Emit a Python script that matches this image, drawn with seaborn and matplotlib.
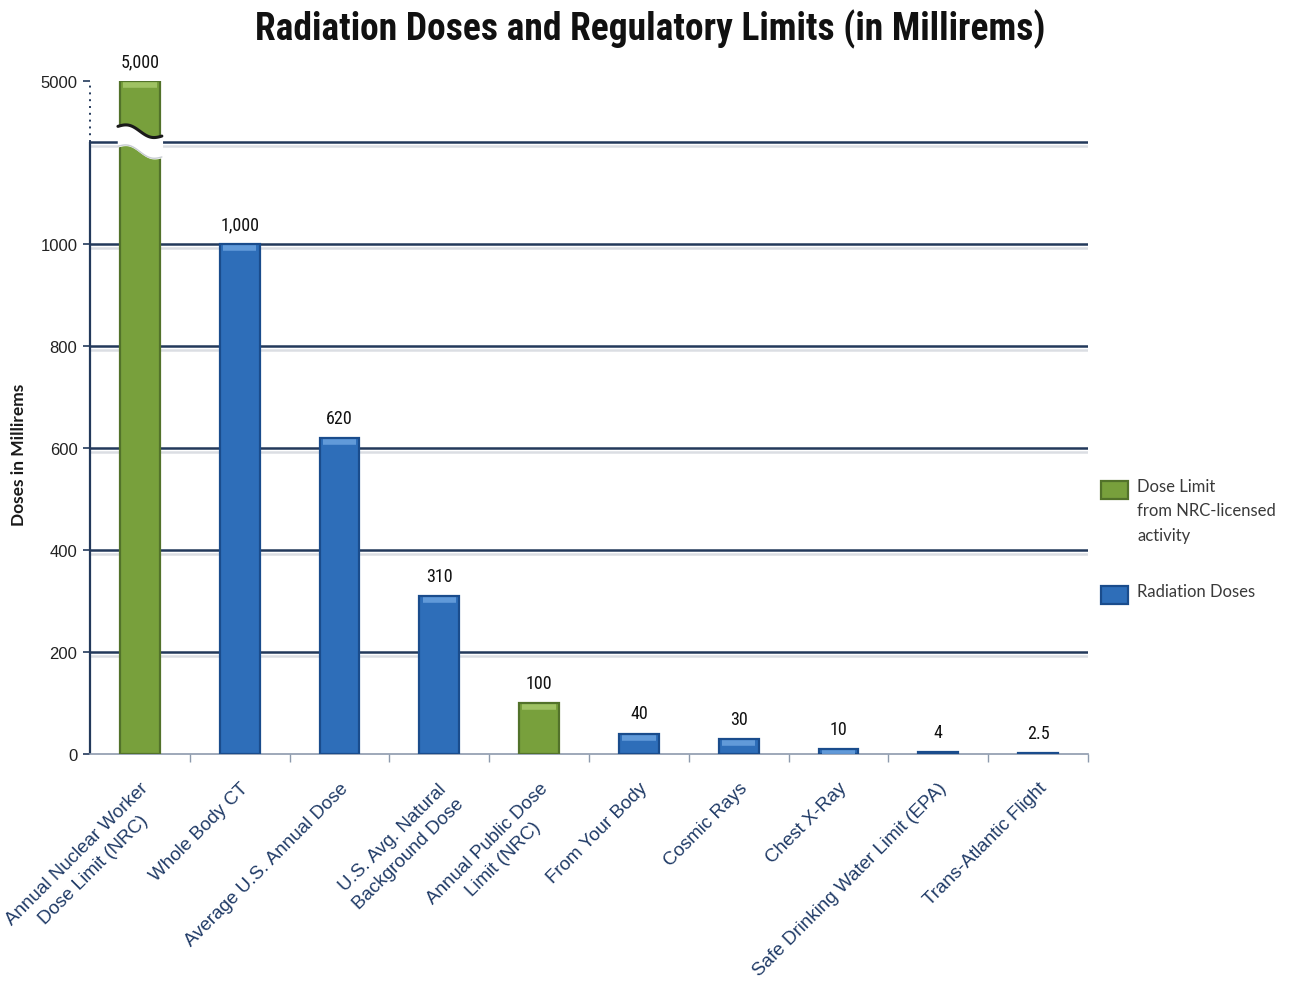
import numpy as np
import pandas as pd
import matplotlib
matplotlib.use("Agg")
import matplotlib.pyplot as plt
import matplotlib.patheffects as pe
from matplotlib.patches import Rectangle
from matplotlib import font_manager
from matplotlib.transforms import offset_copy
import seaborn as sns

# ---- data -------------------------------------------------------------
items = [
    "Annual Nuclear Worker\nDose Limit (NRC)",
    "Whole Body CT",
    "Average U.S. Annual Dose",
    "U.S. Avg. Natural\nBackground Dose",
    "Annual Public Dose\nLimit (NRC)",
    "From Your Body",
    "Cosmic Rays",
    "Chest X-Ray",
    "Safe Drinking Water Limit (EPA)",
    "Trans-Atlantic Flight",
]
doses = [5000, 1000, 620, 310, 100, 40, 30, 10, 4, 2.5]
value_labels = ["5,000", "1,000", "620", "310", "100", "40", "30", "10", "4", "2.5"]
kinds = ["limit", "dose", "dose", "dose", "limit", "dose", "dose", "dose", "dose", "dose"]
legend_order = ["limit", "dose"]
legend_labels = {"limit": "Dose Limit\nfrom NRC-licensed\nactivity", "dose": "Radiation Doses"}
y_ticks = [0, 200, 400, 600, 800, 1000, 5000]
grid_values = [200, 400, 600, 800, 1000, 1200]
axis_break = 1200

colors = {"limit": "#78A03C", "dose": "#2E6EB9"}
edge_colors = {"limit": "#52722A", "dose": "#1A4C8C"}
cap_colors = {"limit": "#A9CB6E", "dose": "#6FA6E2"}

df = pd.DataFrame({"item": items, "dose": doses, "kind": kinds})

# ---- fonts: prefer a narrow face for the headline and value labels ------
installed = {f.name for f in font_manager.fontManager.ttflist}
narrow = next((n for n in ["Liberation Sans Narrow", "Arial Narrow", "DejaVu Sans Condensed",
                           "Roboto Condensed", "Open Sans Condensed"] if n in installed), None)
if narrow:
    title_font, title_size = [narrow, "DejaVu Sans"], 27
    value_font, value_size = [narrow, "DejaVu Sans"], 13
else:
    title_font, title_size = ["Liberation Sans", "DejaVu Sans"], 22.5
    value_font, value_size = ["Liberation Sans", "DejaVu Sans"], 11.5

# ---- broken y axis: everything above the break is compressed -----------
k = 120.0 / 3800.0


def fwd(y):
    y = np.asarray(y, dtype=float)
    return np.where(y <= axis_break, y, axis_break + (y - axis_break) * k)


def inv(y):
    y = np.asarray(y, dtype=float)
    return np.where(y <= axis_break, y, axis_break + (y - axis_break) / k)


sns.set_theme(style="white")
plt.rcParams["font.family"] = ["Liberation Sans", "DejaVu Sans"]

fig = plt.figure(figsize=(12.92, 9.87), dpi=100)
ax = fig.add_axes([90 / 1292, (987 - 755) / 987, 998 / 1292, (755 - 82) / 987])

sns.barplot(data=df, x="item", y="dose", hue="kind", palette=colors, saturation=1,
            dodge=False, width=0.4, ax=ax, legend=False, zorder=3)

ax.set_yscale("function", functions=(fwd, inv))
ax.set_ylim(0, 5000)
ax.set_xlim(-0.5, len(items) - 0.5)

# bar styling: darker outline and a lighter bevel along the top edge
cap_trans = offset_copy(ax.transData, fig=fig, y=-4, units="dots")
bars = sorted(list(ax.patches), key=lambda p: p.get_x())
for patch, kind, v in zip(bars, kinds, doses):
    patch.set_edgecolor(edge_colors[kind])
    patch.set_linewidth(1.6)
    x0 = patch.get_x()
    w = patch.get_width()
    if v >= 10:
        ax.hlines(v, x0 + w * 0.08, x0 + w * 0.92, color=cap_colors[kind], lw=4,
                  alpha=0.8, zorder=4, transform=cap_trans)

# grid lines with a faint drop shadow
for g in grid_values:
    ax.axhline(g, color="#23395B", lw=1.8, zorder=1,
               path_effects=[pe.SimpleLineShadow(offset=(0, -3), shadow_color="#B8BEC8", alpha=0.5),
                             pe.Normal()])

# axes spines
for s in ["top", "right", "left"]:
    ax.spines[s].set_visible(False)
ax.spines["bottom"].set_color("#8D9AAD")
ax.spines["bottom"].set_linewidth(1.2)
ax.vlines(-0.5, 0, axis_break, color="#23395B", lw=1.6, zorder=2, clip_on=False)
ax.vlines(-0.5, axis_break, 5000, color="#23395B", lw=1.4, linestyles=(0, (1, 2.5)),
          zorder=2, clip_on=False)

# break mark across the tallest bar
trans_y = ax.transLimits + ax.transAxes
bw = bars[0].get_width()
t = np.linspace(0, 1, 60)
xs = -bw / 2 - 0.02 + t * (bw + 0.04)
top = axis_break + 31 - 19 * t + 7 * np.sin(2 * np.pi * t)
bot = axis_break - 8 - 21 * t + 7 * np.sin(2 * np.pi * t)
ax.fill_between(xs, bot, top, color="white", zorder=6, transform=trans_y)
ax.plot(xs, top, color="#1A1A1A", lw=2.2, zorder=7, transform=trans_y)
ax.plot(xs, bot, color="#C8CCD2", lw=1.0, zorder=7, transform=trans_y)

# ticks
ax.set_yticks(y_ticks)
ax.set_yticklabels([str(v) for v in y_ticks], fontsize=12, color="#222222")
ax.tick_params(axis="y", left=True, length=5, width=1.2, color="#23395B", pad=4)
ax.set_xticks(range(len(items)))
ax.set_xticklabels(items, rotation=45, ha="right", rotation_mode="anchor",
                   fontsize=13.5, color="#1F3A66")
for lbl in ax.get_xticklabels():
    lbl.set_multialignment("center")
    lbl.set_linespacing(1.45)
ax.tick_params(axis="x", which="major", bottom=False, pad=12)
ax.set_xticks(np.arange(0.5, len(items), 1.0), minor=True)
ax.tick_params(axis="x", which="minor", bottom=True, length=6, width=1.0, color="#8D9AAD")

ax.set_xlabel("")
ax.set_ylabel("Doses in Millirems", fontsize=12.5, fontweight="bold",
              family=["Lato", "DejaVu Sans"], color="#1A1A1A")
ax.yaxis.set_label_coords(-63 / 998, 300 / 673)

# value labels
for i, (v, lab) in enumerate(zip(doses, value_labels)):
    ax.annotate(lab, (i, v), xytext=(0, 8), textcoords="offset points",
                ha="center", va="bottom", fontsize=value_size,
                family=value_font, color="#111111", zorder=8)

fig.text(0.503, 0.970, "Radiation Doses and Regulatory Limits (in Millirems)",
         ha="center", va="center", fontsize=title_size, fontweight="bold",
         family=title_font, color="#111111")

# legend: swatch aligned with the first line of each entry
legend_rows = {"limit": 482, "dose": 587}
for key in legend_order:
    y_top = legend_rows[key]
    fig.patches.append(Rectangle((1101 / 1292, 1 - (y_top + 18) / 987), 27 / 1292, 18 / 987,
                                 transform=fig.transFigure, facecolor=colors[key],
                                 edgecolor=edge_colors[key], linewidth=1.6))
    fig.text(1137 / 1292, 1 - (y_top - 3) / 987, legend_labels[key], ha="left", va="top",
             fontsize=12, family=["Lato", "DejaVu Sans"], color="#3A3A3A", linespacing=1.65)

fig.savefig("out.png", dpi=100, facecolor="white")
